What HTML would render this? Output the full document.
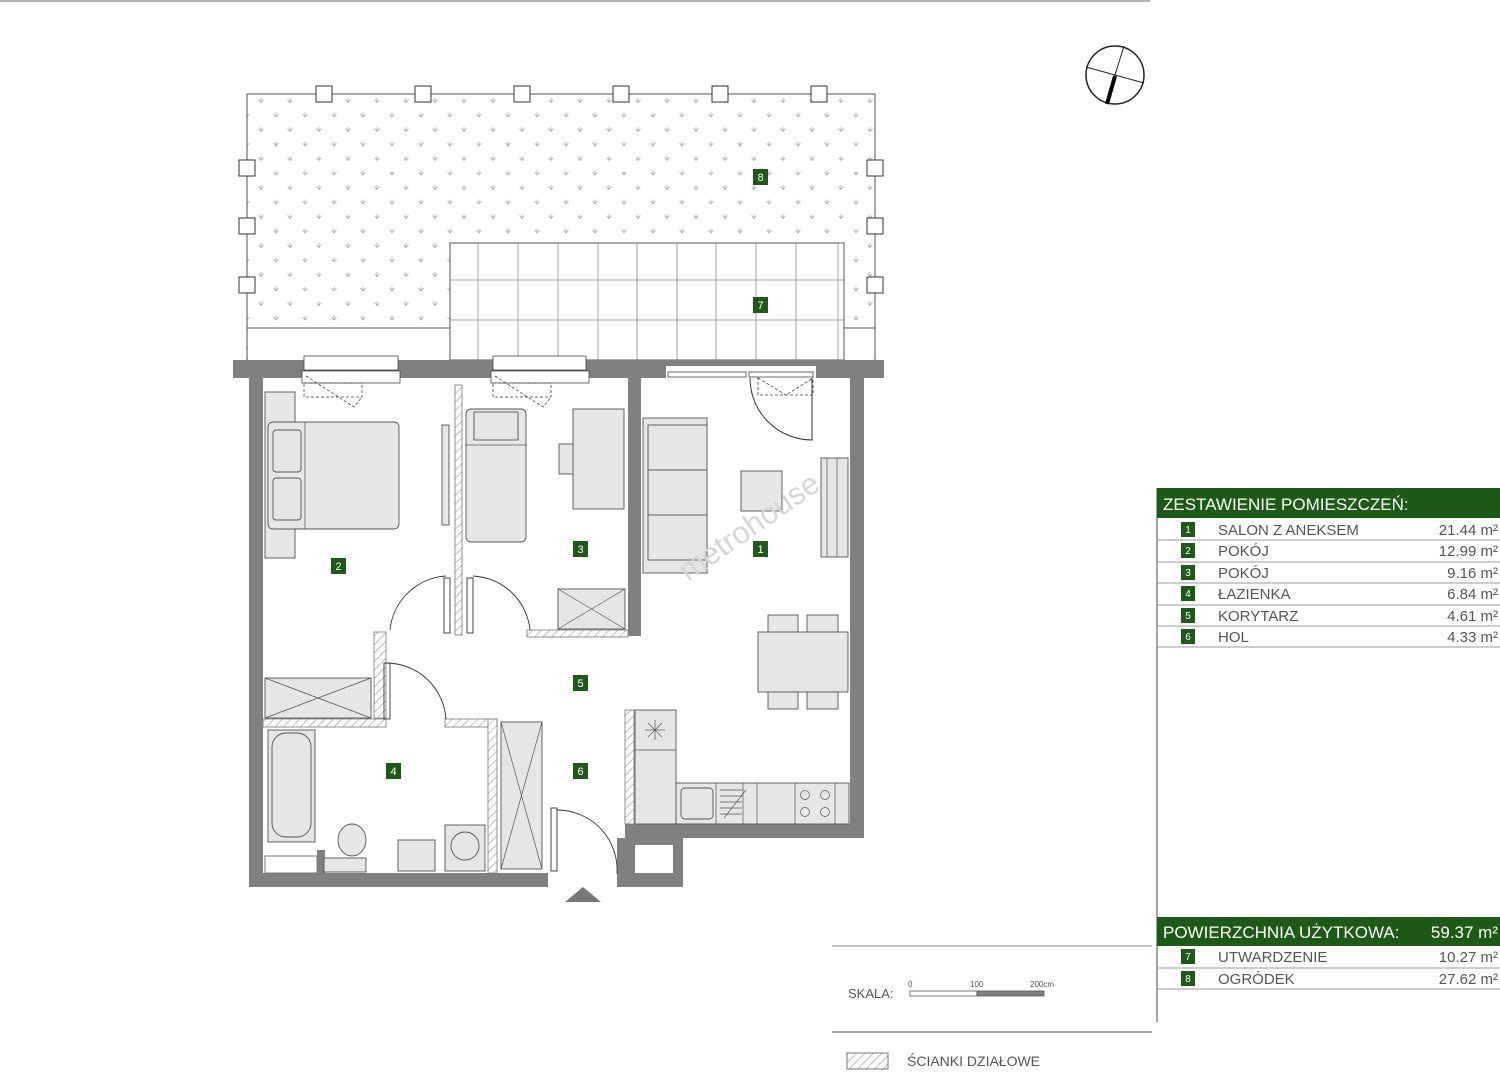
<!DOCTYPE html>
<html><head><meta charset="utf-8"><style>
body{margin:0;background:#fff;}
svg{display:block;font-family:"Liberation Sans",sans-serif;}
</style></head><body>
<svg width="1500" height="1080" viewBox="0 0 1500 1080" xmlns="http://www.w3.org/2000/svg">
<defs>
<pattern id="grass" x="247" y="94" width="29" height="29" patternUnits="userSpaceOnUse">
<g stroke="#aaa" stroke-width="0.8" fill="none">
<path d="M14 4v5M11.5 5.5l2.5 3 2.5-3"/>
<path d="M0 18.5v5M-2.5 20l2.5 3 2.5-3M29 18.5v5M26.5 20l2.5 3 2.5-3"/>
</g></pattern>
<pattern id="hatch" width="6" height="6" patternUnits="userSpaceOnUse" patternTransform="rotate(45)">
<rect width="6" height="6" fill="#fff"/><line x1="0" y1="0" x2="0" y2="6" stroke="#999" stroke-width="1.2"/></pattern>
</defs>
<line x1="0" y1="1" x2="1150" y2="1" stroke="#999" stroke-width="1.5"/>

<!-- garden -->
<rect x="247" y="94" width="628" height="266" fill="url(#grass)" stroke="#555" stroke-width="1"/>
<rect x="248" y="329" width="202" height="31" fill="#fff"/>
<rect x="844" y="329" width="30" height="31" fill="#fff"/>
<line x1="247" y1="328" x2="450" y2="328" stroke="#555"/>
<line x1="844" y1="328" x2="875" y2="328" stroke="#555"/>
<rect x="450" y="243" width="394" height="117" fill="#fff" stroke="#555"/>
<g stroke="#888" stroke-width="0.8">
<line x1="478" y1="243" x2="478" y2="360"/><line x1="518" y1="243" x2="518" y2="360"/><line x1="558" y1="243" x2="558" y2="360"/><line x1="598" y1="243" x2="598" y2="360"/><line x1="637" y1="243" x2="637" y2="360"/><line x1="677" y1="243" x2="677" y2="360"/><line x1="716" y1="243" x2="716" y2="360"/><line x1="756" y1="243" x2="756" y2="360"/><line x1="796" y1="243" x2="796" y2="360"/><line x1="838" y1="243" x2="838" y2="360"/>
<line x1="450" y1="280" x2="844" y2="280"/><line x1="450" y1="320" x2="844" y2="320"/>
</g>
<g fill="#fff" stroke="#333" stroke-width="1">
<rect x="316" y="86" width="16" height="16"/><rect x="415" y="86" width="16" height="16"/><rect x="514" y="86" width="16" height="16"/><rect x="613" y="86" width="16" height="16"/><rect x="712" y="86" width="16" height="16"/><rect x="811" y="86" width="16" height="16"/>
<rect x="239" y="160" width="16" height="16"/><rect x="239" y="218" width="16" height="16"/><rect x="239" y="277" width="16" height="16"/>
<rect x="867" y="160" width="16" height="16"/><rect x="867" y="218" width="16" height="16"/><rect x="867" y="277" width="16" height="16"/>
</g>

<!-- compass -->
<circle cx="1115" cy="75" r="29" fill="#fff" stroke="#222" stroke-width="1.5"/>
<line x1="1124" y1="46" x2="1106" y2="104" stroke="#222" stroke-width="1"/>
<line x1="1086" y1="67" x2="1144" y2="83" stroke="#222" stroke-width="1"/>
<line x1="1115" y1="76" x2="1107" y2="104" stroke="#000" stroke-width="4"/>

<!-- walls -->
<g fill="#808080">
<rect x="233" y="360" width="651" height="18"/>
<rect x="249" y="378" width="14" height="509"/>
<rect x="249" y="873" width="299" height="14"/>
<rect x="850" y="370" width="14" height="468"/>
<rect x="625" y="824" width="239" height="14"/>
<rect x="617" y="838" width="66" height="49"/>
<rect x="628" y="378" width="13" height="258"/>
</g>
<rect x="635" y="845" width="38" height="28" fill="#fff"/>
<rect x="265" y="856" width="52" height="17" fill="#fff" stroke="#777"/>
<rect x="317" y="850" width="8" height="23" fill="#808080"/>
<!-- window openings -->
<g fill="#fff" stroke="#444" stroke-width="0.8">
<rect x="304" y="356" width="94" height="14"/><rect x="302" y="371" width="98" height="12"/>
<rect x="493" y="356" width="93" height="14"/><rect x="491" y="371" width="98" height="12"/>
<rect x="666" y="366" width="150" height="14" stroke="none"/>
<rect x="668" y="372" width="78" height="5"/><rect x="749" y="372" width="64" height="5"/>
</g>
<g fill="none" stroke="#444" stroke-width="0.8" stroke-dasharray="3,2">
<rect x="304" y="383" width="58" height="14"/><path d="M306 376L354 407L362 397"/>
<rect x="493" y="383" width="58" height="14"/><path d="M495 376L543 407L551 397"/>
<path d="M758 377v18h55v-18M758 378l28 17 27-17"/>
</g>
<path d="M750 378a62 62 0 0 0 62 62v-62" fill="none" stroke="#333"/>

<!-- partitions hatched -->
<g fill="url(#hatch)" stroke="#777" stroke-width="0.8">
<rect x="455" y="385" width="7" height="250"/>
<rect x="527" y="630" width="101" height="7"/>
<rect x="374" y="632" width="12" height="86"/>
<rect x="263" y="719" width="123" height="8"/>
<rect x="445" y="719" width="52" height="8"/>
<rect x="488" y="719" width="9" height="154"/>
<rect x="625" y="710" width="9" height="114"/>
</g>
<!-- doors -->
<g fill="none" stroke="#333" stroke-width="0.9">
<path d="M390 630a60 60 0 0 1 56 -54"/><rect x="444" y="578" width="6" height="55"/>
<path d="M530 630a60 60 0 0 0 -57 -54"/><rect x="467" y="578" width="6" height="55"/>
<path d="M386 663a60 60 0 0 1 60 56"/><rect x="384" y="663" width="6" height="56"/>
<path d="M557 810a60 60 0 0 1 60 64"/><rect x="551" y="808" width="6" height="63"/>
</g>
<polygon points="565,902 583,887 601,902" fill="#777"/>

<!-- furniture -->
<g fill="#e6e6e6" stroke="#555" stroke-width="0.9">
<rect x="265" y="392" width="30" height="166"/>
<rect x="268" y="422" width="131" height="107" rx="5"/>
<rect x="273" y="430" width="28" height="42" rx="3"/><rect x="273" y="478" width="28" height="42" rx="3"/>
<rect x="442" y="425" width="7" height="100"/>
<rect x="466" y="409" width="60" height="133" rx="5"/>
<rect x="474" y="412" width="44" height="28"/>
<rect x="573" y="409" width="51" height="100"/><rect x="559" y="444" width="14" height="30"/>
<rect x="558" y="589" width="67" height="40"/>
<rect x="265" y="678" width="106" height="40"/>
<rect x="268" y="730" width="47" height="112"/>
<rect x="272" y="733" width="39" height="104" rx="14"/>
<rect x="324" y="858" width="42" height="14"/><ellipse cx="352" cy="840" rx="14" ry="16"/>
<rect x="398" y="840" width="37" height="31"/>
<rect x="445" y="825" width="40" height="46"/><circle cx="465" cy="846" r="14"/>
<rect x="501" y="722" width="41" height="147"/>
<rect x="643" y="418" width="64" height="155"/><rect x="648" y="425" width="59" height="45"/><rect x="648" y="470" width="59" height="45"/><rect x="648" y="515" width="59" height="45"/>
<rect x="741" y="471" width="41" height="40"/>
<rect x="821" y="458" width="27" height="99"/>
<rect x="768" y="615" width="30" height="18"/><rect x="807" y="615" width="31" height="18"/>
<rect x="758" y="632" width="90" height="60"/>
<rect x="768" y="692" width="30" height="17"/><rect x="807" y="692" width="31" height="17"/>
<rect x="635" y="710" width="41" height="114"/>
<rect x="676" y="783" width="173" height="41"/>
<rect x="681" y="788" width="32" height="31" rx="4"/>
</g>
<g stroke="#555" stroke-width="0.7" fill="none">
<path d="M558 589l67 40M625 589l-67 40M265 678l106 40M371 678l-106 40M501 722l41 147M542 722l-41 147"/>
<line x1="635" y1="750" x2="676" y2="750"/>
<path d="M645 730l20 0M655 720v20M648 723l14 14M662 723l-14 14"/>
<line x1="716" y1="783" x2="716" y2="824"/><line x1="743" y1="783" x2="743" y2="824"/><line x1="757" y1="783" x2="757" y2="824"/><line x1="795" y1="783" x2="795" y2="824"/><line x1="835" y1="783" x2="835" y2="824"/>
<path d="M720 790h22M720 796h22M720 802h22M720 808h22M720 814h22M724 818l22-28"/>
<circle cx="805" cy="795" r="4.5"/><circle cx="825" cy="795" r="4.5"/><circle cx="805" cy="812" r="4.5"/><circle cx="825" cy="812" r="4.5"/>
<line x1="827" y1="458" x2="827" y2="557"/><line x1="837" y1="458" x2="837" y2="557"/>
<line x1="305" y1="422" x2="305" y2="529"/><line x1="466" y1="445" x2="526" y2="445"/>
</g>
<text x="670" y="580" font-size="31" fill="#d6d6d6" transform="translate(-30,-30) rotate(-35 745 520)">metrohouse</text>

<!-- room labels -->
<g font-size="11" fill="#fff" text-anchor="middle">
<rect x="753" y="169" width="15" height="16" fill="#1d5a17"/><text x="760.5" y="181">8</text>
<rect x="753" y="297" width="15" height="16" fill="#1d5a17"/><text x="760.5" y="309">7</text>
<rect x="753" y="541" width="15" height="16" fill="#1d5a17"/><text x="760.5" y="553">1</text>
<rect x="331" y="558" width="15" height="16" fill="#1d5a17"/><text x="338.5" y="570">2</text>
<rect x="573" y="541" width="15" height="16" fill="#1d5a17"/><text x="580.5" y="553">3</text>
<rect x="573" y="675" width="15" height="16" fill="#1d5a17"/><text x="580.5" y="687">5</text>
<rect x="386" y="763" width="15" height="16" fill="#1d5a17"/><text x="393.5" y="775">4</text>
<rect x="573" y="763" width="15" height="16" fill="#1d5a17"/><text x="580.5" y="775">6</text>
</g>

<!-- table -->
<line x1="1157" y1="488" x2="1157" y2="1022" stroke="#444"/>
<rect x="1157" y="488" width="343" height="30" fill="#1d5a17"/>
<text x="1163" y="510" font-size="17" fill="#fff">ZESTAWIENIE POMIESZCZEŃ:</text>
<g stroke="#999" stroke-width="1">
<line x1="1157" y1="540" x2="1500" y2="540"/><line x1="1157" y1="562" x2="1500" y2="562"/><line x1="1157" y1="583" x2="1500" y2="583"/><line x1="1157" y1="605" x2="1500" y2="605"/><line x1="1157" y1="626" x2="1500" y2="626"/><line x1="1157" y1="647" x2="1500" y2="647"/>
<line x1="1157" y1="968" x2="1500" y2="968"/><line x1="1157" y1="989" x2="1500" y2="989"/>
</g>
<g font-size="10" fill="#fff" text-anchor="middle">
<rect x="1181" y="522" width="14" height="15" fill="#1d5a17"/><text x="1188" y="533">1</text>
<rect x="1181" y="543" width="14" height="15" fill="#1d5a17"/><text x="1188" y="554">2</text>
<rect x="1181" y="565" width="14" height="15" fill="#1d5a17"/><text x="1188" y="576">3</text>
<rect x="1181" y="586" width="14" height="15" fill="#1d5a17"/><text x="1188" y="597">4</text>
<rect x="1181" y="608" width="14" height="15" fill="#1d5a17"/><text x="1188" y="619">5</text>
<rect x="1181" y="629" width="14" height="15" fill="#1d5a17"/><text x="1188" y="640">6</text>
<rect x="1181" y="949" width="14" height="15" fill="#1d5a17"/><text x="1188" y="960">7</text>
<rect x="1181" y="971" width="14" height="15" fill="#1d5a17"/><text x="1188" y="982">8</text>
</g>
<g font-size="15" fill="#555">
<text x="1218" y="535">SALON Z ANEKSEM</text><text x="1218" y="556">POKÓJ</text><text x="1218" y="578">POKÓJ</text><text x="1218" y="599">ŁAZIENKA</text><text x="1218" y="621">KORYTARZ</text><text x="1218" y="642">HOL</text>
<text x="1218" y="962">UTWARDZENIE</text><text x="1218" y="984">OGRÓDEK</text>
</g>
<g font-size="15" fill="#555" text-anchor="end">
<text x="1498" y="535">21.44 m²</text><text x="1498" y="556">12.99 m²</text><text x="1498" y="578">9.16 m²</text><text x="1498" y="599">6.84 m²</text><text x="1498" y="621">4.61 m²</text><text x="1498" y="642">4.33 m²</text>
<text x="1498" y="962">10.27 m²</text><text x="1498" y="984">27.62 m²</text>
</g>
<rect x="1157" y="917" width="343" height="29" fill="#1d5a17"/>
<text x="1163" y="938" font-size="17" fill="#fff">POWIERZCHNIA UŻYTKOWA:</text>
<text x="1498" y="938" font-size="17" fill="#fff" text-anchor="end">59.37 m²</text>

<!-- legend -->
<line x1="832" y1="946" x2="1152" y2="946" stroke="#888"/>
<line x1="832" y1="1032" x2="1152" y2="1032" stroke="#888" stroke-width="1.5"/>
<text x="848" y="998" font-size="13" fill="#555">SKALA:</text>
<text x="908" y="987" font-size="8" fill="#555">0</text><text x="970" y="987" font-size="8" fill="#555">100</text><text x="1030" y="987" font-size="8" fill="#555">200cm</text>
<rect x="910" y="991" width="67" height="5" fill="#fff" stroke="#555" stroke-width="0.8"/>
<rect x="977" y="991" width="67" height="5" fill="#808080" stroke="#555" stroke-width="0.8"/>
<rect x="847" y="1053" width="41" height="16" fill="url(#hatch)" stroke="#777"/>
<text x="907" y="1066" font-size="14" fill="#555">ŚCIANKI DZIAŁOWE</text>
</svg>
</body></html>
